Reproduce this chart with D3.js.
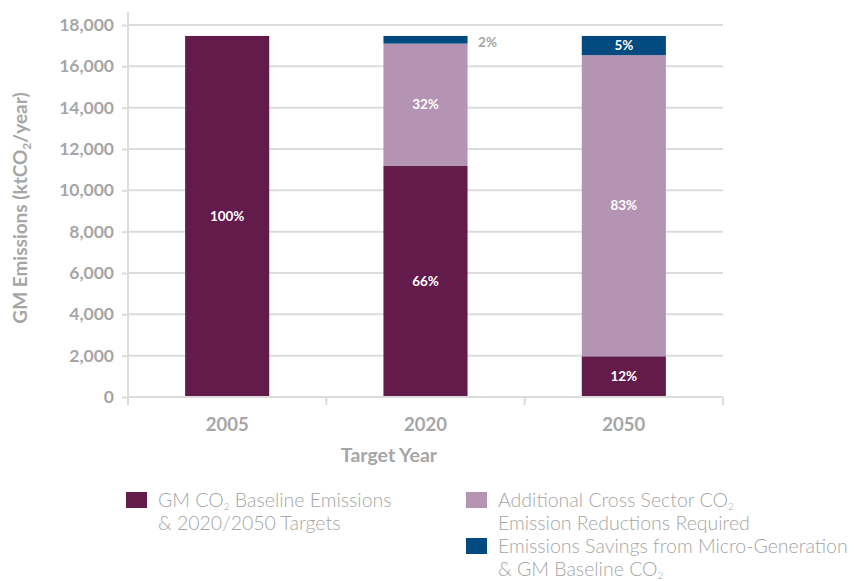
<!DOCTYPE html>
<html><head><meta charset="utf-8">
<script src="https://cdn.jsdelivr.net/npm/d3@7"></script>
<style>
body{margin:0;background:#fff;}
svg{display:block;font-family:"Lato","Open Sans",sans-serif;}
</style></head>
<body><svg id="c" width="858" height="581"></svg>
<script>
const years = ["2005","2020","2050"];
const baseline = [17470, 11180, 1970];
const crossSector = [0, 5920, 14570];
const microGen = [0, 370, 930];
const baselinePct = ["100%","66%","12%"];
const crossPct = ["","32%","83%"];
const microPct = ["","2%","5%"];
const yTicks = [0,2000,4000,6000,8000,10000,12000,14000,16000,18000];
const colors = ["#621B4A","#B593B3","#024A80"];
const gridColor = "#dcdcdc", textGrey = "#a6a6a6";

const svg = d3.select("#c");
const x = d3.scaleBand().domain(years).range([128,723]);
const y = d3.scaleLinear().domain([0,18000]).range([397,25]);
const barW = x.bandwidth()*0.424;

// grid
svg.append("g").selectAll("line").data(yTicks.filter(d=>d>0)).join("line")
  .attr("x1",128).attr("x2",723).attr("y1",d=>y(d)).attr("y2",d=>y(d))
  .attr("stroke",gridColor).attr("stroke-width",2);

// y axis
const ya = svg.append("g").attr("transform","translate(128,0)")
  .call(d3.axisLeft(y).tickValues(yTicks).tickSize(6).tickPadding(8).tickFormat(d3.format(",")));
ya.select(".domain").remove();
ya.selectAll(".tick line").attr("stroke",gridColor).attr("stroke-width",2);
ya.selectAll(".tick text").attr("fill",textGrey).attr("font-size",17.5).attr("font-weight","bold").attr("font-family","Lato");
svg.append("line").attr("x1",128).attr("x2",128).attr("y1",y(18000)-13).attr("y2",y(0)+6)
  .attr("stroke",gridColor).attr("stroke-width",2);

// bars
const stackData = years.map((yr,i)=>({yr, vals:[baseline[i],crossSector[i],microGen[i]], pcts:[baselinePct[i],crossPct[i],microPct[i]]}));
stackData.forEach(d=>{
  let acc = 0;
  d.vals.forEach((v,k)=>{
    if(v<=0){ return; }
    const y0 = acc, y1 = acc+v; acc = y1;
    const cx = x(d.yr)+x.bandwidth()/2;
    svg.append("rect").attr("x",cx-barW/2).attr("width",barW)
      .attr("y",y(y1)).attr("height",y(y0)-y(y1)).attr("fill",colors[k]);
    const lbl = d.pcts[k];
    if(!lbl) return;
    const small = (y(y0)-y(y1))<14;
    svg.append("text")
      .attr("x", small ? cx+barW/2+20 : cx)
      .attr("y", small ? y(y1)+6 : (y(y0)+y(y1))/2)
      .attr("dy","0.35em").attr("text-anchor","middle")
      .attr("fill", small ? textGrey : "#fff")
      .attr("font-size",13.5).attr("font-weight","bold").text(lbl);
  });
});

// x axis
svg.append("line").attr("x1",128).attr("x2",723).attr("y1",y(0)).attr("y2",y(0))
  .attr("stroke",gridColor).attr("stroke-width",2);
const edges = [128, ...years.map(d=>x(d)+x.bandwidth())];
svg.append("g").selectAll("line").data(edges).join("line")
  .attr("x1",d=>d).attr("x2",d=>d).attr("y1",y(0)).attr("y2",y(0)+8)
  .attr("stroke",gridColor).attr("stroke-width",2);
svg.append("g").selectAll("text").data(years).join("text")
  .attr("x",d=>x(d)+x.bandwidth()/2).attr("y",431).attr("text-anchor","middle")
  .attr("fill",textGrey).attr("font-size",18.5).attr("font-weight","bold").text(d=>d);
svg.append("text").attr("x",389).attr("y",462).attr("text-anchor","middle")
  .attr("fill",textGrey).attr("font-size",19.5).attr("font-weight","bold").text("Target Year");

// y title
const yt = svg.append("text").attr("transform","translate(27,208) rotate(-90)")
  .attr("text-anchor","middle").attr("fill",textGrey).attr("font-size",19).attr("font-weight","bold");
yt.append("tspan").text("GM Emissions (ktCO");
yt.append("tspan").attr("font-size",12).attr("dy",4).text("2");
yt.append("tspan").attr("dy",-4).text("/year)");

// legend
const legend = [
  {c:colors[0], x:126, y:492, lines:[["GM CO","2"," Baseline Emissions"],["& 2020/2050 Targets"]]},
  {c:colors[1], x:466, y:492, lines:[["Additional Cross Sector CO","2",""],["Emission Reductions Required"]]},
  {c:colors[2], x:466, y:538, lines:[["Emissions Savings from Micro-Generation"],["& GM Baseline CO","2",""]]}
];
legend.forEach(l=>{
  svg.append("rect").attr("x",l.x).attr("y",l.y).attr("width",21).attr("height",16).attr("fill",l.c);
  l.lines.forEach((ln,j)=>{
    const t = svg.append("text").attr("x",l.x+32).attr("y",l.y+15+j*23)
      .attr("fill",textGrey).attr("font-size",19.5).attr("font-weight",300);
    t.append("tspan").text(ln[0]);
    if(ln.length>1){
      t.append("tspan").attr("font-size",10).attr("dy",3).text(ln[1]);
      t.append("tspan").attr("dy",-3).text(ln[2]);
    }
  });
});
</script></body></html>
